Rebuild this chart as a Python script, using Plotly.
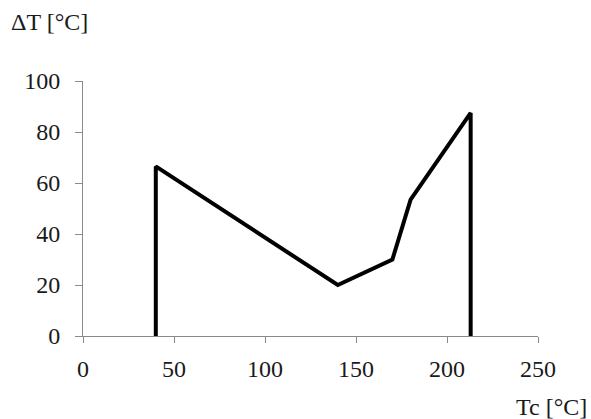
import plotly.graph_objects as go

tc = [40, 40, 140, 170, 180, 213, 213]
dt = [0, 66.5, 20, 30, 53.5, 87.5, 0]

x_ticks = [0, 50, 100, 150, 200, 250]
y_ticks = [0, 20, 40, 60, 80, 100]

fig = go.Figure()
fig.add_trace(go.Scatter(x=tc, y=dt, mode="lines",
                         line=dict(color="black", width=4), showlegend=False))

font = dict(family="Liberation Serif, Times New Roman, serif", size=24, color="#1a1a1a")
fig.update_layout(
    width=591, height=419,
    margin=dict(l=83, r=53, t=81, b=83),
    plot_bgcolor="white", paper_bgcolor="white",
    font=font,
    xaxis=dict(range=[0, 250], tickvals=x_ticks, showgrid=False, zeroline=False,
               showline=True, linecolor="#8a8a8a", linewidth=1,
               ticks="outside", ticklen=6, tickcolor="#8a8a8a", tickfont=font,
               ticklabelstandoff=5),
    yaxis=dict(range=[0, 100], tickvals=y_ticks, showgrid=False, zeroline=False,
               showline=True, linecolor="#8a8a8a", linewidth=1,
               ticks="outside", ticklen=7, tickcolor="#8a8a8a", tickfont=font,
               ticklabelstandoff=10),
    annotations=[
        dict(text="ΔT [°C]", xref="paper", yref="paper", x=-0.162, y=1.23,
             xanchor="left", yanchor="middle", showarrow=False, font=font),
        dict(text="Tc [°C]", xref="paper", yref="paper", x=1.112, y=-0.28,
             xanchor="right", yanchor="middle", showarrow=False, font=font),
    ],
)
fig.write_html("out.html", config={"displayModeBar": False},
               post_script="document.body.style.margin='0';document.body.style.padding='0';")
